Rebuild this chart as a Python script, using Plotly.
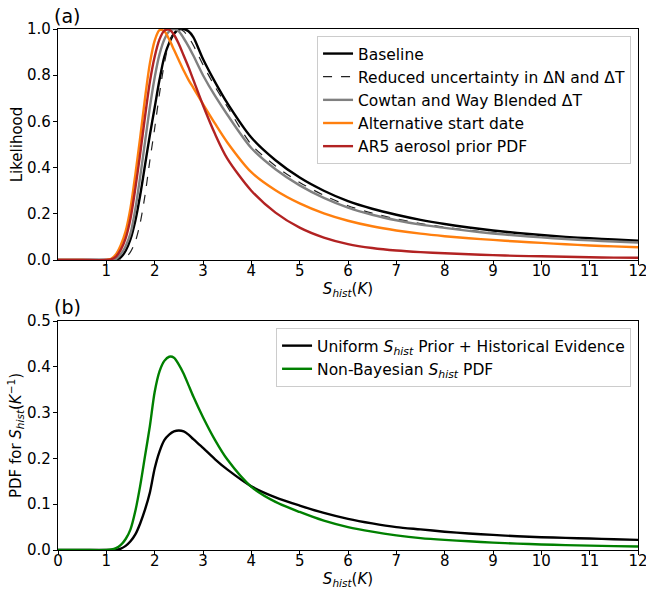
import plotly.graph_objects as go
from plotly.subplots import make_subplots

# ---------------- data ----------------
s_grid = [0, 0.5, 1.0, 1.1, 1.2, 1.3, 1.4, 1.5, 1.6, 1.7, 1.8, 1.9, 2.0, 2.1, 2.2,
          2.3, 2.4, 2.5, 2.6, 2.7, 2.8, 3.0, 3.25, 3.5, 4.0, 4.5, 5.0, 5.5, 6.0,
          6.5, 7.0, 7.5, 8.0, 8.5, 9.0, 9.5, 10.0, 10.5, 11.0, 11.5, 12.0]

baseline = [0, 0, 0, 0, 0.002, 0.012, 0.04, 0.09, 0.17, 0.28, 0.41, 0.54, 0.66, 0.78,
            0.88, 0.94, 0.98, 0.997, 1.0, 0.99, 0.965, 0.87, 0.77, 0.68, 0.53,
            0.432, 0.357, 0.300, 0.255, 0.222, 0.196, 0.174, 0.156, 0.141, 0.128,
            0.117, 0.108, 0.100, 0.094, 0.089, 0.084]

reduced_unc = [0, 0, 0, 0, 0, 0, 0.01, 0.035, 0.08, 0.16, 0.28, 0.43, 0.57, 0.72,
               0.85, 0.94, 0.985, 1.0, 0.99, 0.965, 0.93, 0.845, 0.75, 0.665,
               0.50, 0.407, 0.336, 0.280, 0.235, 0.203, 0.178, 0.158, 0.142, 0.129,
               0.118, 0.108, 0.100, 0.093, 0.087, 0.082, 0.078]

cowtan_way = [0, 0, 0, 0, 0.005, 0.025, 0.06, 0.115, 0.22, 0.36, 0.51, 0.66, 0.79,
              0.89, 0.955, 0.99, 1.0, 0.99, 0.96, 0.925, 0.885, 0.80, 0.71, 0.63,
              0.485, 0.393, 0.323, 0.269, 0.227, 0.196, 0.172, 0.153, 0.139, 0.126,
              0.115, 0.106, 0.098, 0.091, 0.085, 0.080, 0.076]

alt_start = [0, 0, 0, 0.005, 0.025, 0.065, 0.125, 0.225, 0.37, 0.53, 0.70, 0.85,
             0.95, 0.995, 0.99, 0.955, 0.91, 0.865, 0.82, 0.78, 0.745, 0.675, 0.59,
             0.51, 0.38, 0.302, 0.245, 0.202, 0.170, 0.146, 0.128, 0.114, 0.103,
             0.094, 0.087, 0.080, 0.074, 0.068, 0.063, 0.059, 0.055]

ar5_aerosol = [0, 0, 0, 0.003, 0.015, 0.045, 0.095, 0.18, 0.31, 0.46, 0.62, 0.77,
               0.88, 0.955, 0.993, 0.997, 0.975, 0.935, 0.885, 0.835, 0.78, 0.67,
               0.545, 0.44, 0.30, 0.205, 0.140, 0.097, 0.069, 0.052, 0.041, 0.034,
               0.029, 0.025, 0.021, 0.018, 0.016, 0.014, 0.012, 0.0105, 0.0095]

uniform_prior_pdf = [0, 0, 0, 0, 0, 0.003, 0.009, 0.019, 0.034, 0.058, 0.088, 0.125,
                     0.178, 0.215, 0.24, 0.252, 0.259, 0.261, 0.259, 0.252, 0.242,
                     0.223, 0.198, 0.176, 0.139, 0.115, 0.097, 0.081, 0.068, 0.058,
                     0.050, 0.045, 0.040, 0.036, 0.033, 0.030, 0.028, 0.0265, 0.025,
                     0.0235, 0.022]

non_bayes_pdf = [0, 0, 0, 0.001, 0.004, 0.011, 0.024, 0.045, 0.085, 0.14, 0.205, 0.27,
                 0.345, 0.39, 0.413, 0.422, 0.42, 0.405, 0.385, 0.36, 0.335, 0.29,
                 0.24, 0.198, 0.138, 0.105, 0.083, 0.064, 0.050, 0.040, 0.032, 0.026,
                 0.022, 0.019, 0.016, 0.014, 0.012, 0.0107, 0.0095, 0.0085, 0.0075]

top_xticks = list(range(1, 13))
bottom_xticks = list(range(0, 13))
top_yticks = [0.0, 0.2, 0.4, 0.6, 0.8, 1.0]
bottom_yticks = [0.0, 0.1, 0.2, 0.3, 0.4, 0.5]

top_names = ["Baseline", "Reduced uncertainty in ΔN and ΔT",
             "Cowtan and Way Blended ΔT", "Alternative start date",
             "AR5 aerosol prior PDF"]
bottom_names = ["Uniform <i>S</i><sub><i>hist</i></sub> Prior + Historical Evidence",
                "Non-Bayesian <i>S</i><sub><i>hist</i></sub> PDF"]

# ---------------- figure ----------------
FONT = "DejaVu Sans"
fig = make_subplots(rows=2, cols=1, vertical_spacing=0.117)

top_series = [
    (baseline, "black", 2.4, "solid"),
    (reduced_unc, "#222222", 1.2, "dash"),
    (cowtan_way, "#808080", 2.4, "solid"),
    (alt_start, "#ff7f0e", 2.4, "solid"),
    (ar5_aerosol, "#b22222", 2.4, "solid"),
]
for (vals, col, w, dash), name in zip(top_series, top_names):
    fig.add_trace(go.Scatter(x=s_grid, y=vals, mode="lines", name=name,
                             line=dict(color=col, width=w, dash=dash,
                                       shape="spline", smoothing=0.8),
                             legend="legend"), row=1, col=1)

bottom_series = [(uniform_prior_pdf, "black"), (non_bayes_pdf, "#008000")]
for (vals, col), name in zip(bottom_series, bottom_names):
    fig.add_trace(go.Scatter(x=s_grid, y=vals, mode="lines", name=name,
                             line=dict(color=col, width=2.4, shape="spline",
                                       smoothing=0.8),
                             legend="legend2"), row=2, col=1)

xtitle = "<i>S</i><sub><i>hist</i></sub>(<i>K</i>)"
axis_common = dict(showline=True, linecolor="black", linewidth=1.2, mirror=True,
                   ticks="outside", ticklen=4, tickwidth=1.2, tickcolor="black",
                   showgrid=False, zeroline=False, automargin=False,
                   ticklabeloverflow="allow",
                   tickfont=dict(family=FONT, size=15, color="black"))
title_font = dict(family=FONT, size=15, color="black")

fig.update_xaxes(range=[0, 12], tickvals=top_xticks, ticktext=[str(t) for t in top_xticks],
                 ticklabelstandoff=-7,
                 title=dict(text=xtitle, font=title_font, standoff=2),
                 row=1, col=1, **axis_common)
fig.update_xaxes(range=[0, 12], tickvals=bottom_xticks,
                 ticktext=[str(t) for t in bottom_xticks],
                 ticklabelstandoff=-7,
                 title=dict(text=xtitle, font=title_font, standoff=2),
                 row=2, col=1, **axis_common)
fig.update_yaxes(range=[0, 1.0], tickvals=top_yticks,
                 ticktext=[f"{t:.1f}" for t in top_yticks],
                 ticklabelstandoff=-1,
                 title=dict(text="Likelihood", font=title_font, standoff=0),
                 row=1, col=1, **axis_common)
fig.update_yaxes(range=[0, 0.5], tickvals=bottom_yticks,
                 ticktext=[f"{t:.1f}" for t in bottom_yticks],
                 ticklabelstandoff=-1,
                 title=dict(text="PDF for <i>S</i><sub><i>hist</i></sub>(<i>K</i><sup>−1</sup>)",
                            font=title_font, standoff=1),
                 row=2, col=1, **axis_common)

fig.update_layout(
    width=646, height=592,
    margin=dict(l=58, r=8, t=29, b=42),
    plot_bgcolor="white", paper_bgcolor="white",
    font=dict(family=FONT, size=15, color="black"),
    xaxis=dict(domain=[0, 1]), xaxis2=dict(domain=[0, 1]),
    yaxis=dict(domain=[0.5566, 1.0]), yaxis2=dict(domain=[0.0, 0.4395]),
    legend=dict(x=0.988, y=0.9866, xanchor="right", yanchor="top",
                bgcolor="rgba(255,255,255,0.8)", bordercolor="#cccccc", borderwidth=1,
                font=dict(family=FONT, size=15.5, color="black")),
    legend2=dict(x=0.988, y=0.426, xanchor="right", yanchor="top",
                 bgcolor="rgba(255,255,255,0.8)", bordercolor="#cccccc", borderwidth=1,
                 font=dict(family=FONT, size=15.5, color="black")),
    annotations=[
        dict(text="(a)", x=-0.011, y=1.0, xref="paper", yref="paper",
             xanchor="left", yanchor="bottom", showarrow=False,
             font=dict(family=FONT, size=19, color="black")),
        dict(text="(b)", x=-0.011, y=0.441, xref="paper", yref="paper",
             xanchor="left", yanchor="bottom", showarrow=False,
             font=dict(family=FONT, size=19, color="black")),
    ],
)

fig.write_html("out.html",
               config={"displayModeBar": False},
               post_script="document.body.style.margin='0';"
                           "document.body.style.padding='0';"
                           "document.documentElement.style.overflow='hidden';")
